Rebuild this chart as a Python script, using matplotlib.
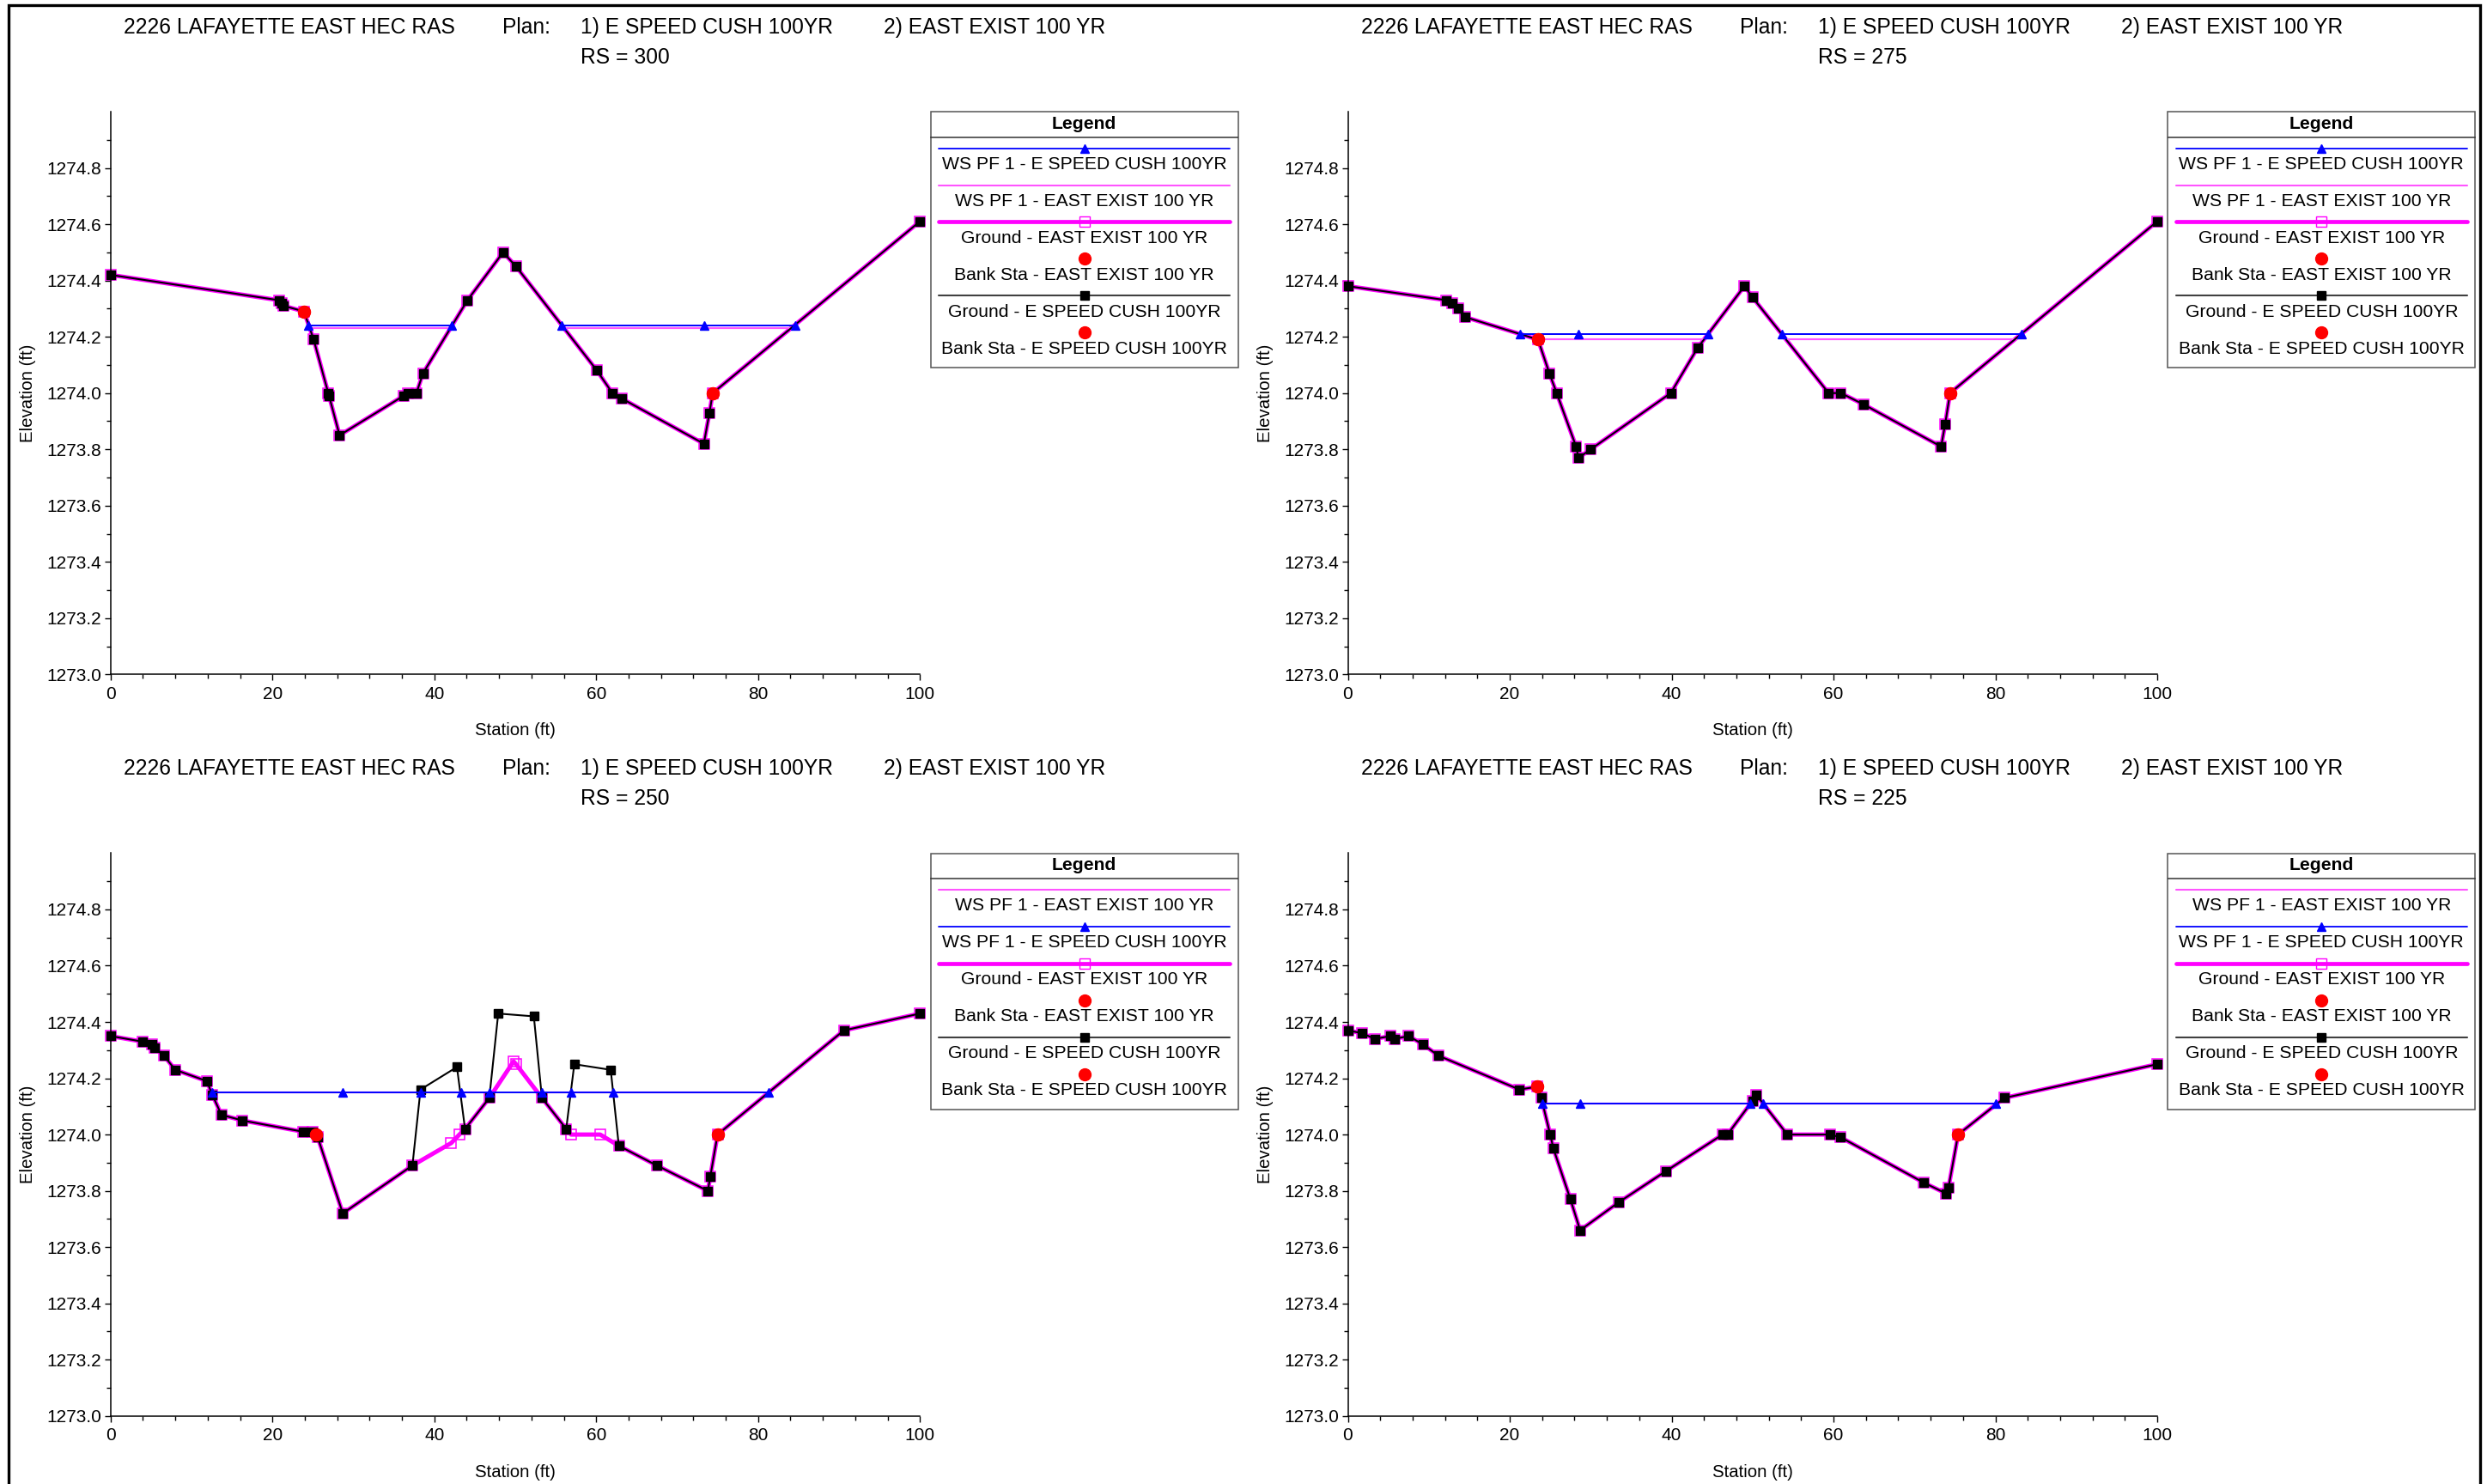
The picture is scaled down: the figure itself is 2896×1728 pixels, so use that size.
import numpy as np
import matplotlib
matplotlib.use('Agg')
import matplotlib.pyplot as plt
from matplotlib.patches import Rectangle
from matplotlib.ticker import FormatStrFormatter

plt.rcParams['font.family'] = ['Liberation Sans', 'DejaVu Sans']

nan = np.nan

# ---------------- DATA ----------------
project_title = "2226 LAFAYETTE EAST HEC RAS"
plan_label = "Plan:"
plan1 = "1) E SPEED CUSH 100YR"
plan2 = "2) EAST EXIST 100 YR"
river_stations = ["300", "275", "250", "225"]

# RS = 300
ground_cush_300_x = [0, 20.8, 21.1, 21.4, 23.9, 25.1, 26.9, 27.0, 28.3, 36.2, 36.7, 37.8, 38.6,
                     44.1, 48.5, 50.1, 60.1, 62.0, 63.2, 73.3, 74.0, 74.4, 100]
ground_cush_300_y = [1274.42, 1274.33, 1274.32, 1274.31, 1274.29, 1274.19, 1274.00, 1273.99,
                     1273.85, 1273.99, 1274.00, 1274.00, 1274.07, 1274.33, 1274.50, 1274.45,
                     1274.08, 1274.00, 1273.98, 1273.82, 1273.93, 1274.00, 1274.61]
ground_exist_300_x = list(ground_cush_300_x)
ground_exist_300_y = list(ground_cush_300_y)
ws_cush_300_x = [24.4, 42.2, nan, 55.7, 73.3, 84.6]
ws_cush_300_elev = 1274.24
ws_exist_300_x = [24.5, 42.1, nan, 55.8, 84.3]
ws_exist_300_elev = 1274.23
bank_300_x = [23.9, 74.4]
bank_300_y = [1274.29, 1274.00]

# RS = 275
ground_cush_275_x = [0, 12.2, 12.9, 13.6, 14.5, 23.5, 24.9, 25.8, 28.2, 28.5, 30.0, 39.9, 43.2,
                     49.0, 50.0, 59.4, 60.9, 63.7, 73.3, 73.8, 74.4, 100]
ground_cush_275_y = [1274.38, 1274.33, 1274.32, 1274.30, 1274.27, 1274.19, 1274.07, 1274.00,
                     1273.81, 1273.77, 1273.80, 1274.00, 1274.16, 1274.38, 1274.34, 1274.00,
                     1274.00, 1273.96, 1273.81, 1273.89, 1274.00, 1274.61]
ground_exist_275_x = list(ground_cush_275_x)
ground_exist_275_y = list(ground_cush_275_y)
ws_cush_275_x = [21.3, 28.5, 44.5, nan, 53.6, 83.2]
ws_cush_275_elev = 1274.21
ws_exist_275_x = [23.5, 44.0, nan, 53.9, 82.6]
ws_exist_275_elev = 1274.19
bank_275_x = [23.5, 74.4]
bank_275_y = [1274.19, 1274.00]

# RS = 250
ground_cush_250_x = [0, 4.0, 5.1, 5.4, 6.6, 8.0, 11.9, 12.6, 13.7, 16.3, 23.8, 25.0, 25.6, 28.7,
                     37.3, 38.3, 42.8, 43.8, 46.8, 47.9, 52.3, 53.3, 56.3, 57.3, 61.8, 62.8,
                     67.5, 73.8, 74.1, 75.0, 90.6, 100]
ground_cush_250_y = [1274.35, 1274.33, 1274.32, 1274.31, 1274.28, 1274.23, 1274.19, 1274.14,
                     1274.07, 1274.05, 1274.01, 1274.01, 1273.99, 1273.72, 1273.89, 1274.16,
                     1274.24, 1274.02, 1274.13, 1274.43, 1274.42, 1274.13, 1274.02, 1274.25,
                     1274.23, 1273.96, 1273.89, 1273.80, 1273.85, 1274.00, 1274.37, 1274.43]
ground_exist_250_x = [0, 4.0, 5.1, 5.4, 6.6, 8.0, 11.9, 12.6, 13.7, 16.3, 23.8, 25.0, 25.6, 28.7,
                      37.3, 42.1, 43.1, 43.8, 46.8, 49.8, 50.1, 53.3, 56.3, 56.9, 60.5, 62.8,
                      67.5, 73.8, 74.1, 75.0, 90.6, 100]
ground_exist_250_y = [1274.35, 1274.33, 1274.32, 1274.31, 1274.28, 1274.23, 1274.19, 1274.14,
                      1274.07, 1274.05, 1274.01, 1274.01, 1273.99, 1273.72, 1273.89, 1273.97,
                      1274.00, 1274.02, 1274.13, 1274.26, 1274.25, 1274.13, 1274.02, 1274.00,
                      1274.00, 1273.96, 1273.89, 1273.80, 1273.85, 1274.00, 1274.37, 1274.43]
ws_cush_250_x = [12.6, 28.7, 38.3, 43.3, 46.8, 53.3, 56.9, 62.1, 81.3]
ws_cush_250_elev = 1274.15
ws_exist_250_x = [12.6, 47.3, nan, 52.6, 81.3]
ws_exist_250_elev = 1274.15
bank_250_x = [25.4, 75.0]
bank_250_y = [1274.00, 1274.00]

# RS = 225
ground_cush_225_x = [0, 1.8, 3.3, 5.3, 5.8, 7.5, 9.3, 11.2, 21.2, 23.4, 23.9, 25.0, 25.4, 27.5,
                     28.7, 33.5, 39.3, 46.3, 46.9, 50.0, 50.5, 54.3, 59.6, 60.9, 71.1, 73.95,
                     74.2, 75.4, 81.1, 100]
ground_cush_225_y = [1274.37, 1274.36, 1274.34, 1274.35, 1274.34, 1274.35, 1274.32, 1274.28,
                     1274.16, 1274.17, 1274.13, 1274.00, 1273.95, 1273.77, 1273.66, 1273.76,
                     1273.87, 1274.00, 1274.00, 1274.12, 1274.14, 1274.00, 1274.00, 1273.99,
                     1273.83, 1273.79, 1273.81, 1274.00, 1274.13, 1274.25]
ground_exist_225_x = list(ground_cush_225_x)
ground_exist_225_y = list(ground_cush_225_y)
ws_cush_225_x = [24.0, 28.7, 49.7, nan, 51.3, 80.1]
ws_cush_225_elev = 1274.11
ws_exist_225_x = [24.0, 49.7, nan, 51.3, 80.1]
ws_exist_225_elev = 1274.11
bank_225_x = [23.4, 75.4]
bank_225_y = [1274.17, 1274.00]

x_ticks = [0, 20, 40, 60, 80, 100]
y_ticks = [1273.0, 1273.2, 1273.4, 1273.6, 1273.8, 1274.0, 1274.2, 1274.4, 1274.6, 1274.8]

lbl_ws_cush = "WS PF 1 - E SPEED CUSH 100YR"
lbl_ws_exist = "WS PF 1 - EAST EXIST 100 YR"
lbl_gr_exist = "Ground - EAST EXIST 100 YR"
lbl_bk_exist = "Bank Sta - EAST EXIST 100 YR"
lbl_gr_cush = "Ground - E SPEED CUSH 100YR"
lbl_bk_cush = "Bank Sta - E SPEED CUSH 100YR"

legend_order_a = ["ws_cush", "ws_exist", "gr_exist", "bk_exist", "gr_cush", "bk_cush"]
legend_order_b = ["ws_exist", "ws_cush", "gr_exist", "bk_exist", "gr_cush", "bk_cush"]

panels = [
    dict(rs=river_stations[0], gcx=ground_cush_300_x, gcy=ground_cush_300_y,
         gex=ground_exist_300_x, gey=ground_exist_300_y,
         wcx=ws_cush_300_x, wce=ws_cush_300_elev, wex=ws_exist_300_x, wee=ws_exist_300_elev,
         bx=bank_300_x, by=bank_300_y, leg=legend_order_a),
    dict(rs=river_stations[1], gcx=ground_cush_275_x, gcy=ground_cush_275_y,
         gex=ground_exist_275_x, gey=ground_exist_275_y,
         wcx=ws_cush_275_x, wce=ws_cush_275_elev, wex=ws_exist_275_x, wee=ws_exist_275_elev,
         bx=bank_275_x, by=bank_275_y, leg=legend_order_a),
    dict(rs=river_stations[2], gcx=ground_cush_250_x, gcy=ground_cush_250_y,
         gex=ground_exist_250_x, gey=ground_exist_250_y,
         wcx=ws_cush_250_x, wce=ws_cush_250_elev, wex=ws_exist_250_x, wee=ws_exist_250_elev,
         bx=bank_250_x, by=bank_250_y, leg=legend_order_b),
    dict(rs=river_stations[3], gcx=ground_cush_225_x, gcy=ground_cush_225_y,
         gex=ground_exist_225_x, gey=ground_exist_225_y,
         wcx=ws_cush_225_x, wce=ws_cush_225_elev, wex=ws_exist_225_x, wee=ws_exist_225_elev,
         bx=bank_225_x, by=bank_225_y, leg=legend_order_b),
]

# ---------------- STYLES ----------------
BLUE = '#0000ff'
PINK = '#ff55ff'
MAGENTA = '#ff00ff'
RED = '#ff0000'

styles = {
    "ws_cush": dict(color=BLUE, lw=1.3, marker='^', ms=7.5, mfc=BLUE, mec=BLUE),
    "ws_exist": dict(color=PINK, lw=1.5, marker=None),
    "gr_exist": dict(color=MAGENTA, lw=3.4, marker='s', ms=8.5, mfc='none', mec=MAGENTA, mew=1.0),
    "bk_exist": dict(color=RED, lw=0, marker='o', ms=10, mfc=RED, mec=RED),
    "gr_cush": dict(color='#404040', lw=1.5, marker='s', ms=6.5, mfc='black', mec='black'),
    "bk_cush": dict(color=RED, lw=0, marker='o', ms=10, mfc=RED, mec=RED),
}
labels = {"ws_cush": lbl_ws_cush, "ws_exist": lbl_ws_exist, "gr_exist": lbl_gr_exist,
          "bk_exist": lbl_bk_exist, "gr_cush": lbl_gr_cush, "bk_cush": lbl_bk_cush}

# ---------------- FIGURE ----------------
W, H = 2896, 1728
DPI = 100
fig = plt.figure(figsize=(W / DPI, H / DPI), dpi=DPI)


def fx(px):
    return px / W


def fy(py):
    return 1 - py / H


AX_W = 942.5
AX_H = 655.4
origins = [(128.7, 130.0), (1569.5, 130.0), (128.7, 993.4), (1569.5, 993.4)]

for p, (ox, oy) in zip(panels, origins):
    ax = fig.add_axes([fx(ox), fy(oy + AX_H), AX_W / W, AX_H / H])
    # ground existing (thick magenta, open squares)
    ax.plot(p['gex'], p['gey'], color=MAGENTA, lw=3.6, marker='s', ms=8.8, mfc='none',
            mec=MAGENTA, mew=1.1, zorder=2, clip_on=False)
    # WS existing
    ax.plot(p['wex'], np.full(len(p['wex']), p['wee']), color=PINK, lw=1.6, zorder=3)
    # ground proposed (black)
    ax.plot(p['gcx'], p['gcy'], color='black', lw=1.5, marker='s', ms=6.5, mfc='black',
            mec='black', zorder=4, clip_on=False)
    # WS proposed
    ax.plot(p['wcx'], np.full(len(p['wcx']), p['wce']), color=BLUE, lw=1.4, marker='^',
            ms=7.5, mfc=BLUE, mec=BLUE, zorder=5)
    # bank stations (existing and proposed coincide)
    ax.plot(p['bx'], p['by'], ls='none', marker='o', ms=10, color=RED, zorder=6)
    ax.plot(p['bx'], p['by'], ls='none', marker='o', ms=10, color=RED, zorder=6)

    ax.set_xlim(0, 100)
    ax.set_ylim(1273.0, 1275.0)
    ax.set_xticks(x_ticks)
    ax.set_xticks(np.arange(0, 101, 4), minor=True)
    ax.set_yticks(y_ticks)
    ax.set_yticks(np.round(np.arange(1273.0, 1274.95, 0.1), 1), minor=True)
    ax.yaxis.set_major_formatter(FormatStrFormatter('%.1f'))
    for s in ['top', 'right']:
        ax.spines[s].set_visible(False)
    for s in ['left', 'bottom']:
        ax.spines[s].set_linewidth(1.1)
    ax.tick_params(which='major', direction='out', length=5, width=1.0, labelsize=15, pad=2.5)
    ax.tick_params(which='minor', direction='out', length=3.5, width=1.0)
    ax.tick_params(axis='x', which='major', pad=4.5)

    # axis labels
    fig.text(fx(ox - 96), fy(oy + AX_H / 2), "Elevation (ft)", rotation=90,
             ha='center', va='center', fontsize=14.7)
    fig.text(fx(ox + AX_W / 2), fy(oy + 721), "Station (ft)", ha='center', va='center',
             fontsize=14.7)

    # titles
    t1y = fy(oy - 98)
    t2y = fy(oy - 63)
    fig.text(fx(ox + 15.3), t1y, project_title, ha='left', va='center', fontsize=17.7)
    fig.text(fx(ox + 456.3), t1y, plan_label, ha='left', va='center', fontsize=17.7)
    fig.text(fx(ox + 547.3), t1y, plan1, ha='left', va='center', fontsize=17.7)
    fig.text(fx(ox + 900.3), t1y, plan2, ha='left', va='center', fontsize=17.7)
    fig.text(fx(ox + 547.3), t2y, "RS = " + p['rs'], ha='left', va='center', fontsize=17.7)

    # legend box
    LW_, LH_ = 359.0, 299.0
    lx = ox + 954.3
    ly = oy
    lax = fig.add_axes([fx(lx), fy(ly + LH_), LW_ / W, LH_ / H])
    lax.set_xlim(0, LW_)
    lax.set_ylim(LH_, 0)
    lax.axis('off')
    lax.add_patch(Rectangle((0.5, 0.5), LW_ - 1, LH_ - 1, fill=False, ec='#555555', lw=1.1,
                            clip_on=False))
    lax.plot([0.5, LW_ - 0.5], [30, 30], color='#333333', lw=1.1)
    lax.text(LW_ / 2, 14.5, "Legend", ha='center', va='center', fontsize=15.2,
             fontweight='bold')
    for i, key in enumerate(p['leg']):
        sy = 42.7 + 42.9 * i
        st = dict(styles[key])
        lw = st.pop('lw')
        color = st.pop('color')
        marker = st.pop('marker')
        if lw > 0:
            lax.plot([10, LW_ - 10], [sy, sy], color=color, lw=lw, solid_capstyle='round')
        if marker is not None:
            lax.plot([LW_ / 2], [sy], marker=marker, ls='none', **st)
        lax.text(LW_ / 2, sy + 18.8, labels[key], ha='center', va='center', fontsize=15.2)

# outer border
fig.add_artist(Rectangle((fx(9.5), fy(1760)), fx(2888 - 9.5), (1760 - 6) / H, fill=False,
                         ec='black', lw=2.4, transform=fig.transFigure, clip_on=False))

fig.savefig('out.png', dpi=DPI)
